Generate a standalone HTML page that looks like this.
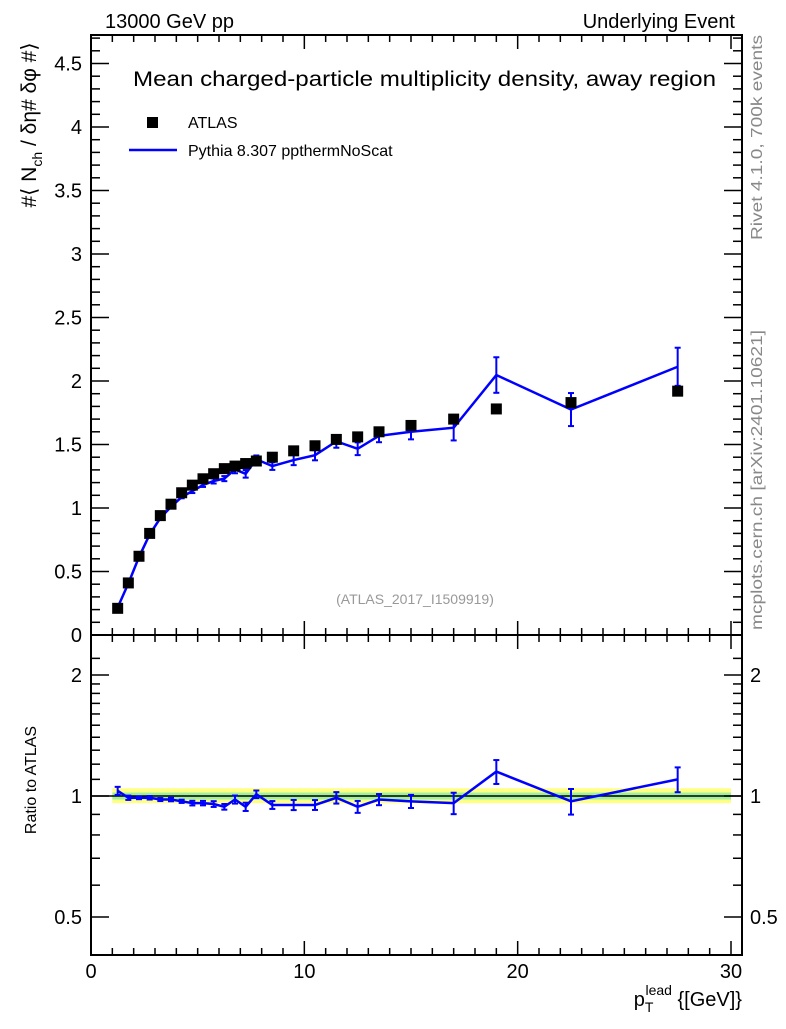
<!DOCTYPE html>
<html><head><meta charset="utf-8"><style>
body{margin:0;background:#fff;}
svg text{font-family:"Liberation Sans",sans-serif;}
</style></head><body>
<svg id="c" width="786" height="1024" xmlns="http://www.w3.org/2000/svg">
<text x="105" y="28" font-size="20">13000 GeV pp</text>
<text x="735" y="28" font-size="20" text-anchor="end">Underlying Event</text>
<text x="133" y="86" font-size="21" textLength="583" lengthAdjust="spacingAndGlyphs">Mean charged-particle multiplicity density, away region</text>
<rect x="147" y="117" width="11" height="11" fill="#000"/>
<text x="188" y="128" font-size="16">ATLAS</text>
<line x1="129" y1="150" x2="177" y2="150" stroke="#0000ff" stroke-width="2.5"/>
<text x="188" y="156" font-size="16">Pythia 8.307 ppthermNoScat</text>
<text x="415" y="604" font-size="14" fill="#999" text-anchor="middle">(ATLAS_2017_I1509919)</text>
<text transform="translate(762,240) rotate(-90)" font-size="16" fill="#888" textLength="205" lengthAdjust="spacingAndGlyphs">Rivet 4.1.0,  700k events</text>
<text transform="translate(762,630) rotate(-90)" font-size="16" fill="#888" textLength="300" lengthAdjust="spacingAndGlyphs">mcplots.cern.ch [arXiv:2401.10621]</text>
<text transform="translate(36,125) rotate(-90)" font-size="21" text-anchor="middle">#⟨ N<tspan font-size="14" dy="6">ch</tspan><tspan dy="-6"> / δη# δφ #⟩</tspan></text>
<text transform="translate(36,780) rotate(-90)" font-size="16" text-anchor="middle">Ratio to ATLAS</text>
<text x="742" y="1006" font-size="20" text-anchor="end">p<tspan font-size="14" dy="6">T</tspan><tspan font-size="14" dx="-8" dy="-17">lead</tspan><tspan dy="11"> {[GeV]}</tspan></text>
<g id="g"></g>
</svg>
<script>
const xs=[1.25,1.75,2.25,2.75,3.25,3.75,4.25,4.75,5.25,5.75,6.25,6.75,7.25,7.75,8.5,9.5,10.5,11.5,12.5,13.5,15,17,19,22.5,27.5];
const atlas=[0.21,0.41,0.62,0.80,0.94,1.03,1.12,1.18,1.23,1.27,1.31,1.33,1.35,1.37,1.40,1.45,1.49,1.54,1.56,1.60,1.65,1.70,1.78,1.83,1.92];
const ratio=[1.03,0.99,0.99,0.99,0.98,0.98,0.97,0.96,0.96,0.955,0.94,0.98,0.94,1.01,0.95,0.95,0.95,0.99,0.94,0.98,0.97,0.96,1.15,0.97,1.10];
const mcErr=[0.005,0.005,0.005,0.008,0.008,0.01,0.01,0.015,0.015,0.02,0.02,0.03,0.03,0.03,0.03,0.04,0.04,0.05,0.05,0.05,0.06,0.1,0.14,0.13,0.15];
const mainTicks=["0","0.5","1","1.5","2","2.5","3","3.5","4","4.5"];
const xTicks=["0","10","20","30"];
const ratioTicks=["0.5","1","2"];
const NS="http://www.w3.org/2000/svg",g=document.getElementById('g');
const L=91,R=742,T=35,MB=635,RB=955;
const X=v=>L+v*(731-L)/30;
const Y=v=>635-v*127;
const YR=v=>796-Math.log2(v)*121;
function el(t,a){const e=document.createElementNS(NS,t);for(const k in a)e.setAttribute(k,a[k]);g.appendChild(e);return e;}
let ey=el('rect',{x:X(1),y:YR(1.045),width:X(30)-X(1),height:YR(0.96)-YR(1.045),fill:'#ffff80'});

let eg=el('rect',{x:X(1),y:YR(1.02),width:X(30)-X(1),height:YR(0.98)-YR(1.02),fill:'#a0f0a0'});

let rl=el('line',{x1:L,x2:R,y1:YR(1),y2:YR(1),stroke:'#000','stroke-width':1.5});

[[T,MB],[MB,RB]].forEach((f,i)=>{const r=el('rect',{x:L,y:f[0],width:R-L,height:f[1]-f[0],fill:'none',stroke:'#000','stroke-width':2});
});
for(let v=0;v<=30;v++){const big=v%10==0,s=big?14:7;
[MB,RB].forEach(b=>{el('line',{x1:X(v),x2:X(v),y1:b,y2:b-s,stroke:'#000','stroke-width':1.5});});
el('line',{x1:X(v),x2:X(v),y1:T,y2:T+s,stroke:'#000','stroke-width':1.5});
el('line',{x1:X(v),x2:X(v),y1:MB,y2:MB+s,stroke:'#000','stroke-width':1.5});}
xTicks.forEach(t=>{const e=el('text',{x:X(+t),y:978,'font-size':20,'text-anchor':'middle'});e.textContent=t;
});
for(let k=0;k<=47;k++){const v=k/10,big=k%5==0,s=big?18:9,y=Y(v);if(y<T)break;
el('line',{x1:L,x2:L+s,y1:y,y2:y,stroke:'#000','stroke-width':1.5});el('line',{x1:R,x2:R-s,y1:y,y2:y,stroke:'#000','stroke-width':1.5});}
mainTicks.forEach(t=>{const e=el('text',{x:82,y:Y(+t)+7,'font-size':20,'text-anchor':'end'});e.textContent=t;
});
[0.4,0.5,0.6,0.7,0.8,0.9,1,1.1,1.2,1.3,1.4,1.5,1.6,1.7,1.8,1.9,2,2.2].forEach(v=>{const y=YR(v);if(y<MB||y>RB)return;
const big=[0.5,1,2].includes(v),s=big?18:9;
el('line',{x1:L,x2:L+s,y1:y,y2:y,stroke:'#000','stroke-width':1.5});el('line',{x1:R,x2:R-s,y1:y,y2:y,stroke:'#000','stroke-width':1.5});});
ratioTicks.forEach(t=>{[[82,'end'],[750,'start']].forEach(p=>{const e=el('text',{x:p[0],y:YR(+t)+7,'font-size':20,'text-anchor':p[1]});e.textContent=t;
});});
const mc=xs.map((x,i)=>atlas[i]*ratio[i]);
let p=el('polyline',{points:xs.map((x,i)=>X(x)+','+Y(mc[i])).join(' '),fill:'none',stroke:'#0000ff','stroke-width':2.5});

let pr=el('polyline',{points:xs.map((x,i)=>X(x)+','+YR(ratio[i])).join(' '),fill:'none',stroke:'#0000ff','stroke-width':2.5});

xs.forEach((x,i)=>{const e=mcErr[i];
[[Y(mc[i]+e),Y(mc[i]-e)],[YR((mc[i]+e)/atlas[i]),YR((mc[i]-e)/atlas[i])]].forEach((yy,j)=>{
const b=el('line',{x1:X(x),x2:X(x),y1:yy[0],y2:yy[1],stroke:'#0000ff','stroke-width':2});

el('line',{x1:X(x)-3,x2:X(x)+3,y1:yy[0],y2:yy[0],stroke:'#0000ff','stroke-width':2});
el('line',{x1:X(x)-3,x2:X(x)+3,y1:yy[1],y2:yy[1],stroke:'#0000ff','stroke-width':2});});
const m=el('rect',{x:X(x)-5.5,y:Y(atlas[i])-5.5,width:11,height:11,fill:'#000'});
});
</script>
</body></html>
